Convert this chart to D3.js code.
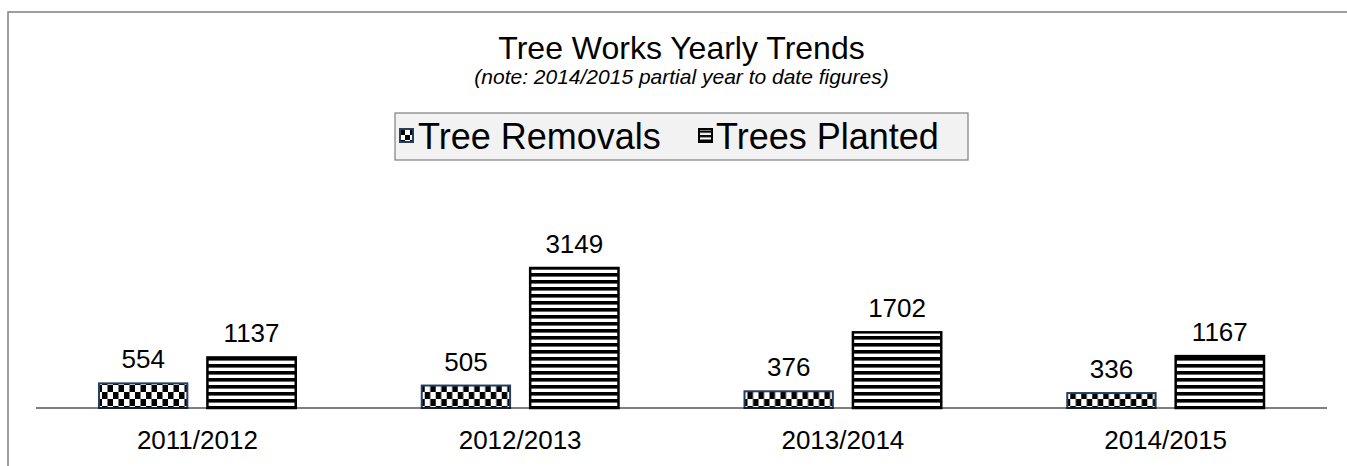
<!DOCTYPE html>
<html>
<head>
<meta charset="utf-8">
<script src="https://cdn.jsdelivr.net/npm/d3@7"></script>
<style>
  html, body { margin: 0; padding: 0; background: #fff; }
  svg { display: block; font-family: "Liberation Sans", Arial, sans-serif; }
</style>
</head>
<body>
<svg id="chart" width="1347" height="466"></svg>
<script>
const categories = ["2011/2012", "2012/2013", "2013/2014", "2014/2015"];
const seriesNames = ["Tree Removals", "Trees Planted"];
const removals = [554, 505, 376, 336];
const planted = [1137, 3149, 1702, 1167];
const titleText = "Tree Works Yearly Trends";
const subtitleText = "(note: 2014/2015 partial year to date figures)";

const data = categories.map((c, i) => ({ cat: c, values: [
  { key: seriesNames[0], value: removals[i] },
  { key: seriesNames[1], value: planted[i] }
]}));

const svg = d3.select("#chart");
const defs = svg.append("defs");

// checkerboard pattern
const chk = defs.append("pattern").attr("id", "checker")
  .attr("patternUnits", "userSpaceOnUse").attr("width", 11).attr("height", 14);
chk.append("rect").attr("width", 11).attr("height", 14).attr("fill", "#fff");
chk.append("rect").attr("x", 0).attr("y", 0).attr("width", 5.5).attr("height", 7).attr("fill", "#000");
chk.append("rect").attr("x", 5.5).attr("y", 7).attr("width", 5.5).attr("height", 7).attr("fill", "#000");

// horizontal stripes
const str = defs.append("pattern").attr("id", "stripes")
  .attr("patternUnits", "userSpaceOnUse").attr("width", 8).attr("height", 7);
str.append("rect").attr("width", 8).attr("height", 7).attr("fill", "#fff");
str.append("rect").attr("y", 0).attr("width", 8).attr("height", 3.6).attr("fill", "#000");

// small legend patterns
const chkS = defs.append("pattern").attr("id", "checkerS")
  .attr("patternUnits", "userSpaceOnUse").attr("width", 10).attr("height", 10);
chkS.append("rect").attr("width", 10).attr("height", 10).attr("fill", "#fff");
chkS.append("rect").attr("width", 5).attr("height", 5).attr("fill", "#000");
chkS.append("rect").attr("x", 5).attr("y", 5).attr("width", 5).attr("height", 5).attr("fill", "#000");

const strS = defs.append("pattern").attr("id", "stripesS")
  .attr("patternUnits", "userSpaceOnUse").attr("width", 8).attr("height", 4.5);
strS.append("rect").attr("width", 8).attr("height", 4.5).attr("fill", "#fff");
strS.append("rect").attr("width", 8).attr("height", 2.3).attr("fill", "#000");

const fills = { "Tree Removals": "url(#checker)", "Trees Planted": "url(#stripes)" };
const strokes = { "Tree Removals": "#243f60", "Trees Planted": "#000" };
const legFills = { "Tree Removals": "url(#checkerS)", "Trees Planted": "url(#stripesS)" };

// outer frame
svg.append("rect").attr("x", 8).attr("y", 12).attr("width", 1400).attr("height", 500)
  .attr("fill", "none").attr("stroke", "#7f7f7f").attr("stroke-width", 1.5);

// title
svg.append("text").attr("x", 681.5).attr("y", 59).attr("text-anchor", "middle")
  .attr("font-size", 32).attr("fill", "#000").text(titleText);
svg.append("text").attr("x", 681.5).attr("y", 84).attr("text-anchor", "middle")
  .attr("font-size", 21).attr("font-style", "italic").attr("fill", "#000").text(subtitleText);

// legend
const leg = svg.append("g");
leg.append("rect").attr("x", 395).attr("y", 113).attr("width", 573).attr("height", 47)
  .attr("fill", "#f2f2f2").attr("stroke", "#7f7f7f").attr("stroke-width", 1.2);
const legItems = [
  { key: seriesNames[0], mx: 400, tx: 418 },
  { key: seriesNames[1], mx: 699, tx: 716 }
];
legItems.forEach(it => {
  leg.append("rect").attr("x", it.mx).attr("y", 129).attr("width", 13).attr("height", 13)
    .attr("fill", legFills[it.key]).attr("stroke", strokes[it.key]).attr("stroke-width", 2);
  leg.append("text").attr("x", it.tx).attr("y", 149).attr("font-size", 36).attr("fill", "#000").text(it.key);
});

// scales
const x0 = d3.scaleBand().domain(categories).range([36, 1327]).paddingInner(0).paddingOuter(0);
const x1 = d3.scaleBand().domain(seriesNames).range([63, x0.bandwidth() - 63]).paddingInner(20 / 108);
const y = d3.scaleLinear().domain([0, 3500]).range([408, 408 - 3500 * (140 / 3149)]);

const groups = svg.append("g").selectAll("g").data(data).join("g")
  .attr("transform", d => `translate(${x0(d.cat)},0)`);

groups.selectAll("rect").data(d => d.values).join("rect")
  .attr("x", d => x1(d.key))
  .attr("y", d => y(d.value))
  .attr("width", x1.bandwidth())
  .attr("height", d => y(0) - y(d.value))
  .attr("fill", d => fills[d.key])
  .attr("stroke", d => strokes[d.key])
  .attr("stroke-width", d => d.key === seriesNames[0] ? 2 : 2.5);

groups.selectAll("text.val").data(d => d.values).join("text")
  .attr("class", "val")
  .attr("x", d => x1(d.key) + x1.bandwidth() / 2)
  .attr("y", d => y(d.value) - 15)
  .attr("text-anchor", "middle")
  .attr("font-size", 26)
  .attr("fill", "#000")
  .text(d => d.value);

// x axis
const xAxis = d3.axisBottom(x0).tickSize(0).tickPadding(23);
const ax = svg.append("g").attr("transform", "translate(0,408)").call(xAxis);
ax.select(".domain").attr("stroke", "#000").attr("stroke-width", 1.2).attr("d", "M36,0H1327");
ax.selectAll(".tick text").attr("font-size", 26).attr("fill", "#000")
  .attr("font-family", "'Liberation Sans', Arial, sans-serif");
</script>
</body>
</html>
